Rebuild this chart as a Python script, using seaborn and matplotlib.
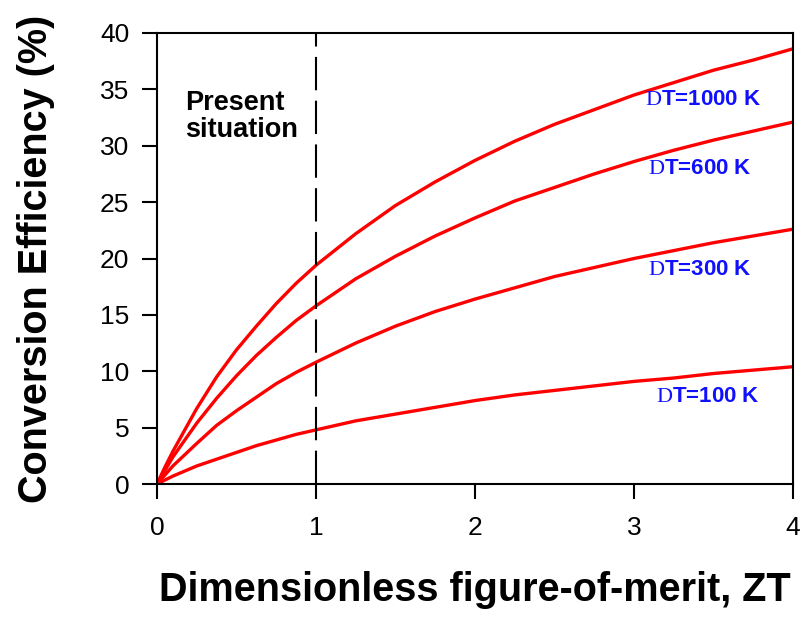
import numpy as np
import pandas as pd
import matplotlib
matplotlib.use("Agg")
import matplotlib.pyplot as plt
import seaborn as sns

# values
zt = [0, 0.05, 0.1, 0.25, 0.375, 0.5, 0.625, 0.75, 0.875, 1, 1.25, 1.5, 1.75,
      2, 2.25, 2.5, 2.75, 3, 3.25, 3.5, 3.75, 4]
eff_1000 = [0, 1.5, 2.9, 6.7, 9.5, 11.9, 14.0, 16.0, 17.8, 19.4, 22.2, 24.7, 26.8,
            28.7, 30.4, 31.9, 33.2, 34.5, 35.6, 36.7, 37.6, 38.6]
eff_600 = [0, 1.2, 2.4, 5.4, 7.6, 9.6, 11.4, 13.0, 14.5, 15.8, 18.2, 20.2, 22.0,
           23.6, 25.1, 26.3, 27.5, 28.6, 29.6, 30.5, 31.3, 32.1]
eff_300 = [0, 0.8, 1.6, 3.6, 5.2, 6.5, 7.7, 8.9, 9.9, 10.8, 12.5, 14.0, 15.3,
           16.4, 17.4, 18.4, 19.2, 20.0, 20.7, 21.4, 22.0, 22.6]
eff_100 = [0, 0.35, 0.7, 1.6, 2.2, 2.8, 3.4, 3.9, 4.4, 4.8, 5.6, 6.2, 6.8,
           7.4, 7.9, 8.3, 8.7, 9.1, 9.4, 9.8, 10.1, 10.4]

delta_t = ["1000", "600", "300", "100"]
label_pos = {"1000": (3.07, 34.1), "600": (3.09, 28.0),
             "300": (3.09, 19.0), "100": (3.14, 7.8)}

sns.set_style("ticks")
plt.rcParams['font.family'] = ['Liberation Sans', 'DejaVu Sans']
plt.rcParams['mathtext.fontset'] = 'custom'
plt.rcParams['mathtext.rm'] = 'Liberation Serif'
plt.rcParams['text.color'] = 'black'
plt.rcParams['axes.labelcolor'] = 'black'

df = pd.concat([
    pd.DataFrame({'ZT': zt, 'Eff': vals, 'DT': dt})
    for dt, vals in zip(delta_t, [eff_1000, eff_600, eff_300, eff_100])
])

fig = plt.figure(figsize=(8.02, 6.21), dpi=100)
ax = fig.add_axes([157 / 802, 1 - 484 / 621, 636 / 802, 451 / 621])

sns.lineplot(data=df, x='ZT', y='Eff', hue='DT', units='DT', estimator=None,
             palette=['#ff0000'] * 4, linewidth=2.4, legend=False, ax=ax)

ax.axvline(1, color='black', lw=1.5, dashes=(16, 5))

for dt in delta_t:
    x, y = label_pos[dt]
    ax.text(x, y, r"$\mathrm{D}$" + f"T={dt} K", color='#1010ff',
            fontsize=16, fontweight='bold', ha='left', va='center')

ax.text(0.176, 32.6, "Present\nsituation", fontsize=19.5, fontweight='bold',
        color='black', ha='left', va='center', linespacing=1.05)

ax.set_xlim(0, 4)
ax.set_ylim(0, 40)
ax.set_xticks([0, 1, 2, 3, 4])
ax.set_yticks(range(0, 41, 5))
ax.tick_params(axis='both', direction='out', length=11, width=1.5,
               labelsize=19, colors='black')
ax.tick_params(axis='x', pad=12)
ax.tick_params(axis='y', pad=9)
for s in ax.spines.values():
    s.set_linewidth(1.5)
    s.set_color('black')

ax.set_xlabel("Dimensionless figure-of-merit, ZT", fontsize=28.5, fontweight='bold')
ax.set_ylabel("Conversion Efficiency (%)", fontsize=28.5, fontweight='bold')
ax.xaxis.set_label_coords(0.5, -0.193)
ax.yaxis.set_label_coords(-0.16, 0.5)

fig.savefig("out.png", dpi=100)
